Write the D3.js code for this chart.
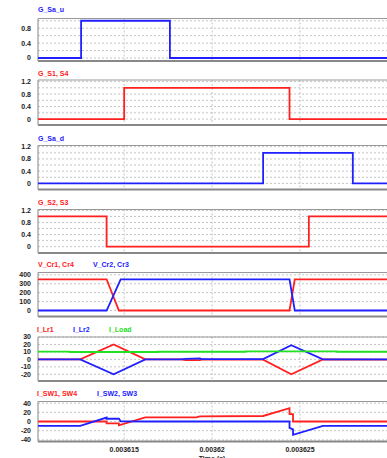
<!DOCTYPE html>
<html>
<head>
<meta charset="utf-8">
<script src="https://cdn.jsdelivr.net/npm/d3@7"></script>
<style>
body{margin:0;background:#fff;}
text{font-family:"Liberation Sans",Arial,sans-serif;font-weight:bold;}
</style>
</head>
<body>
<div class="chart"></div>
<script>
// time range and ticks
const T0 = 0.0036101, T1 = 0.00363;
const timeTicks = [0.003615, 0.00362, 0.003625];
const timeLabels = ["0.003615", "0.00362", "0.003625"];

// gate signals
const gSaU = [[T0,0],[0.00361255,0],[0.00361255,1],[0.0036176,1],[0.0036176,0],[T1,0]];
const gS1 = [[T0,0],[0.003615,0],[0.003615,1],[0.0036244,1],[0.0036244,0],[T1,0]];
const gSaD = [[T0,0],[0.0036229,0],[0.0036229,1],[0.003628,1],[0.003628,0],[T1,0]];
const gS2 = [[T0,1],[0.003614,1],[0.003614,0],[0.0036255,0],[0.0036255,1],[T1,1]];

// resonant capacitor voltages
const vCr1 = [[T0,350],[0.003614,350],[0.0036147,0],[0.0036244,0],[0.0036247,350],[T1,350]];
const vCr2 = [[T0,0],[0.003614,0],[0.0036148,350],[0.0036244,350],[0.0036247,0],[T1,0]];

// resonant inductor currents and load current
const iLr1 = [[T0,0],[0.0036125,0],[0.0036144,20],[0.0036162,0],[0.0036182,0],[0.0036185,-1],
  [0.0036193,-1],[0.0036194,-0.3],[0.0036229,-0.3],[0.0036245,-20],[0.0036263,0],[T1,-0.3]];
const iLr2 = [[T0,0],[0.0036125,0],[0.0036144,-20],[0.0036162,0],[0.0036182,0],[0.0036185,0.8],
  [0.0036193,1.2],[0.0036194,0.3],[0.0036229,0.3],[0.0036245,19],[0.0036263,0],[T1,0]];
const iLoad = [[T0,10.3],[0.0036119,10.3],[0.0036119,9.9],[0.0036169,9.9],[0.0036169,10.2],
  [0.0036219,10.2],[0.0036219,10.6],[0.0036271,10.6],[0.0036271,10.2],[T1,10.2]];

// switch currents
const iSw1 = [[T0,0],[0.003614,0],[0.003614,-4],[0.0036147,-4],[0.0036147,-8.5],[0.0036162,9],
  [0.0036191,9],[0.0036193,11],[0.0036229,12],[0.0036244,29],[0.0036244,16],[0.0036246,16],
  [0.0036246,0],[T1,0]];
const iSw2 = [[T0,-9.5],[0.0036125,-9.5],[0.003614,8.5],[0.003614,6],[0.0036147,6],[0.0036148,0.5],
  [0.0036162,0],[0.0036244,0],[0.0036244,-14],[0.0036246,-17],[0.0036246,-29],[0.0036263,-9.5],[T1,-9.5]];

const RED = "#ff2020", BLUE = "#2020ff", GREEN = "#22e022";

// panel layout
const panels = [
  {titles:[["G_Sa_u",BLUE,38]], tY:11.5, top:18.5, bottom:61, dom:[-0.08,1.06],
   grid:[0,0.2,0.4,0.6,0.8,1.0], labels:[0,0.4,0.8], series:[[gSaU,BLUE]]},
  {titles:[["G_S1, S4",RED,38]], tY:76, top:80, bottom:125, dom:[-0.19,1.25],
   grid:[0,0.2,0.4,0.6,0.8,1.0,1.2], labels:[0,0.4,0.8,1.2], series:[[gS1,RED]]},
  {titles:[["G_Sa_d",BLUE,38]], tY:140.5, top:145.5, bottom:189.5, dom:[-0.2,1.24],
   grid:[0,0.2,0.4,0.6,0.8,1.0,1.2], labels:[0,0.4,0.8,1.2], series:[[gSaD,BLUE]]},
  {titles:[["G_S2, S3",RED,38]], tY:205, top:209.5, bottom:253, dom:[-0.21,1.23],
   grid:[0,0.2,0.4,0.6,0.8,1.0,1.2], labels:[0,0.4,0.8,1.2], series:[[gS2,RED]]},
  {titles:[["V_Cr1, Cr4",RED,38],["V_Cr2, Cr3",BLUE,93]], tY:267, top:272.5, bottom:316.5, dom:[-67,426],
   grid:[0,100,200,300,400], labels:[0,100,200,300,400], series:[[vCr1,RED],[vCr2,BLUE]]},
  {titles:[["I_Lr1",RED,37],["I_Lr2",BLUE,73],["I_Load",GREEN,109]], tY:331.5, top:337, bottom:381, dom:[-29,30],
   grid:[-20,-10,0,10,20,30], labels:[-20,-10,0,10,20,30], series:[[iLr1,RED],[iLr2,BLUE],[iLoad,GREEN]]},
  {titles:[["I_SW1, SW4",RED,37],["I_SW2, SW3",BLUE,97]], tY:395.5, top:401.5, bottom:441.5, dom:[-43.5,43.5],
   grid:[-40,-20,0,20,40], labels:[-40,-20,0,20,40], series:[[iSw1,RED],[iSw2,BLUE]]}
];

const width = 387, height = 458;
const left = 38, right = 388;

const svg = d3.select(".chart")
  .append("svg")
  .attr("width", width)
  .attr("height", height);

const xScale = d3.scaleLinear()
  .domain([T0, T1])
  .range([left, right]);

panels.forEach((p, i) => {
  const yScale = d3.scaleLinear().domain(p.dom).range([p.bottom, p.top]);
  const g = svg.append("g");

  // clip
  svg.append("clipPath").attr("id", "clip" + i)
    .append("rect")
    .attr("x", left).attr("y", p.top)
    .attr("width", right - left).attr("height", p.bottom - p.top);

  // horizontal grid
  g.selectAll(".hgrid")
    .data(p.grid)
    .enter()
    .append("line")
    .attr("x1", left).attr("x2", right)
    .attr("y1", d => yScale(d)).attr("y2", d => yScale(d))
    .attr("stroke", "#c4c4c4")
    .attr("stroke-dasharray", "2,2");

  // vertical grid
  g.selectAll(".vgrid")
    .data(timeTicks)
    .enter()
    .append("line")
    .attr("x1", d => xScale(d)).attr("x2", d => xScale(d))
    .attr("y1", p.top).attr("y2", p.bottom)
    .attr("stroke", "#c4c4c4")
    .attr("stroke-dasharray", "2,2");

  // frame
  g.append("line").attr("x1", left).attr("x2", right).attr("y1", p.top).attr("y2", p.top)
    .attr("stroke", "#999").attr("stroke-width", 1.2);
  g.append("line").attr("x1", left).attr("x2", right).attr("y1", p.bottom).attr("y2", p.bottom)
    .attr("stroke", "#888").attr("stroke-width", 1.8);
  g.append("line").attr("x1", left).attr("x2", left).attr("y1", p.top).attr("y2", p.bottom)
    .attr("stroke", "#999").attr("stroke-width", 1.2);

  // y labels
  g.selectAll(".ylab")
    .data(p.labels)
    .enter()
    .append("text")
    .attr("x", 31)
    .attr("y", d => yScale(d))
    .attr("dy", "0.35em")
    .attr("font-size", "7px")
    .attr("fill", "#222")
    .style("text-anchor", "end")
    .text(d => String(d));

  // titles
  g.selectAll(".title")
    .data(p.titles)
    .enter()
    .append("text")
    .attr("x", d => d[2])
    .attr("y", p.tY)
    .attr("font-size", "7px")
    .attr("fill", d => d[1])
    .text(d => d[0]);

  // series
  const line = d3.line()
    .x(d => xScale(d[0]))
    .y(d => yScale(d[1]));

  g.append("g").attr("clip-path", "url(#clip" + i + ")")
    .selectAll("path")
    .data(p.series)
    .enter()
    .append("path")
    .attr("d", d => line(d[0]))
    .attr("fill", "none")
    .attr("stroke", d => d[1])
    .attr("stroke-width", 1.8);
});

// x axis labels
svg.selectAll(".xlab")
  .data(timeTicks)
  .enter()
  .append("text")
  .attr("x", d => xScale(d))
  .attr("y", 452)
  .attr("font-size", "7px")
  .attr("fill", "#222")
  .style("text-anchor", "middle")
  .text((d, i) => timeLabels[i]);

svg.append("text")
  .attr("x", 212)
  .attr("y", 461)
  .attr("font-size", "7px")
  .attr("fill", "#222")
  .style("text-anchor", "middle")
  .text("Time (s)");
</script>
</body>
</html>
